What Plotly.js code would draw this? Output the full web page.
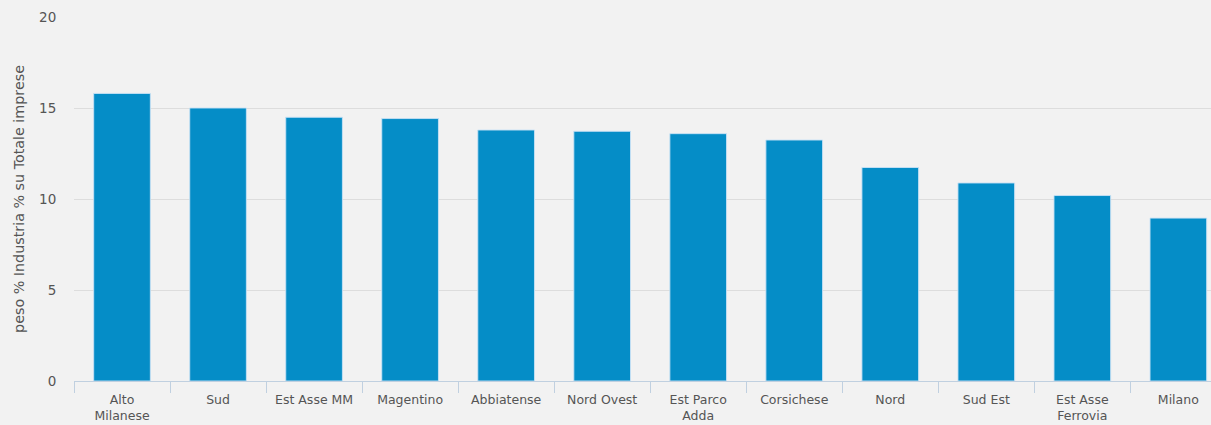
<!DOCTYPE html>
<html>
<head>
<meta charset="utf-8">
<script src="https://cdn.plot.ly/plotly-3.0.1.min.js"></script>
<style>
html,body{margin:0;padding:0;background:#f2f2f2;overflow:hidden;}
#chart{width:1211px;height:425px;}
</style>
</head>
<body>
<div id="chart"></div>
<script>
const categories = ["Alto<br>Milanese","Sud","Est Asse MM","Magentino","Abbiatense","Nord Ovest","Est Parco<br>Adda","Corsichese","Nord","Sud Est","Est Asse<br>Ferrovia","Milano"];
const values = [15.8, 15.0, 14.49, 14.42, 13.79, 13.72, 13.59, 13.24, 11.73, 10.88, 10.19, 8.95];
const yTitle = "peso % Industria % su Totale imprese";

const trace = {
  type: "bar",
  x: categories,
  y: values,
  marker: {color: "#058DC7", line: {color: "rgba(200,225,245,0.9)", width: 1}},
  hoverinfo: "x+y"
};

const fam = "DejaVu Sans, Verdana, sans-serif";

const layout = {
  width: 1211,
  height: 425,
  margin: {l: 74, r: 0, t: 17, b: 44, pad: 0},
  paper_bgcolor: "#f2f2f2",
  plot_bgcolor: "#f2f2f2",
  showlegend: false,
  bargap: 0.41,
  font: {family: fam, size: 12, color: "#555555"},
  xaxis: {
    type: "category",
    range: [-0.5, 11.34],
    tickson: "boundaries",
    ticks: "outside",
    ticklen: 11,
    tickcolor: "#c0d0e0",
    tickwidth: 1,
    ticklabelstandoff: 7,
    showline: true,
    linecolor: "#c0d0e0",
    linewidth: 1,
    showgrid: false,
    zeroline: false,
    tickfont: {family: fam, size: 12.5, color: "#555555"},
    fixedrange: true
  },
  yaxis: {
    range: [0, 20],
    tickvals: [0, 5, 10, 15, 20],
    ticks: "outside",
    ticklen: 14,
    tickcolor: "rgba(0,0,0,0)",
    showgrid: true,
    gridcolor: "#dddddd",
    gridwidth: 1,
    zeroline: false,
    showline: false,
    tickfont: {family: fam, size: 13.5, color: "#555555"},
    title: {text: yTitle, font: {family: fam, size: 14.3, color: "#555555"}, standoff: 11},
    fixedrange: true
  }
};

Plotly.newPlot("chart", [trace], layout, {displayModeBar: false, staticPlot: true});
</script>
</body>
</html>
